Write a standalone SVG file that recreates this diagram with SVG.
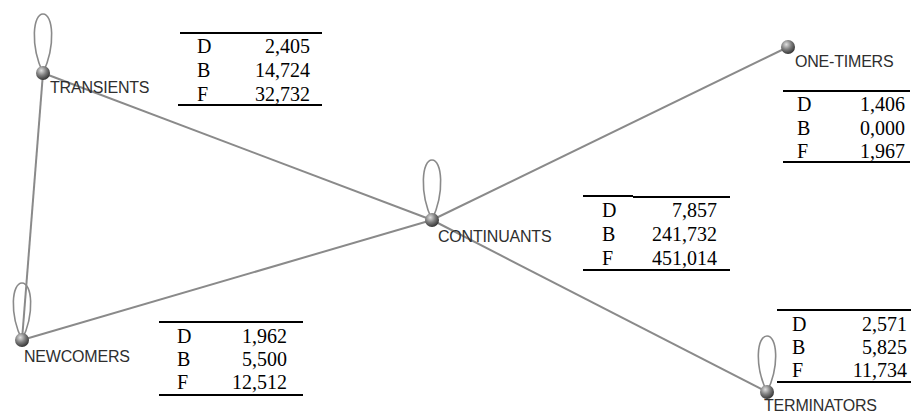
<svg xmlns="http://www.w3.org/2000/svg" width="911" height="413" viewBox="0 0 911 413">
<defs>
<radialGradient id="ball" cx="0.38" cy="0.32" r="0.7">
<stop offset="0" stop-color="#e0e0e0"/>
<stop offset="0.5" stop-color="#808080"/>
<stop offset="1" stop-color="#333"/>
</radialGradient>
<style>
.edge{stroke:#8a8a8a;stroke-width:2;fill:none}
.loop{stroke:#8a8a8a;stroke-width:1.6;fill:none}
.ball{fill:url(#ball)}
.lbl{font-family:"Liberation Sans",Arial,sans-serif;font-size:16px;fill:#2e2e2e;letter-spacing:-0.2px}
.t{font-family:"Liberation Serif","Times New Roman",serif;font-size:20px;fill:#000}
.v{font-family:"Liberation Serif","Times New Roman",serif;font-size:20px;fill:#000;text-anchor:end}
.rule{stroke:#000;stroke-width:2.2}
</style>
</defs>
<rect width="911" height="413" fill="#fff"/>
<g id="connectors">
<line class="edge" x1="43" y1="73" x2="432" y2="220"/>
<line class="edge" x1="43" y1="73" x2="22" y2="340"/>
<line class="edge" x1="22" y1="340" x2="432" y2="220"/>
<line class="edge" x1="432" y1="220" x2="788" y2="47"/>
<line class="edge" x1="432" y1="220" x2="767" y2="392"/>
<path class="loop" d="M43,73 C30,45 33,14 43,14 C53,14 56,45 43,73"/>
<path class="loop" d="M432,220 C419,192 422,160 432,160 C442,160 445,192 432,220"/>
<path class="loop" d="M22,340 C9,313 12,283 22,283 C32,283 35,313 22,340"/>
<path class="loop" d="M767,392 C754,365 757,336 767,336 C777,336 780,365 767,392"/>
</g>
<g id="transients">
<circle class="ball" cx="43" cy="73" r="7"/>
<text class="lbl" x="50" y="93">TRANSIENTS</text>
<line class="rule" x1="180" y1="33" x2="322" y2="33"/>
<text class="t" x="197" y="53">D</text><text class="v" x="310" y="53">2,405</text>
<text class="t" x="197" y="77">B</text><text class="v" x="310" y="77">14,724</text>
<text class="t" x="197" y="101">F</text><text class="v" x="310" y="101">32,732</text>
<line class="rule" x1="178" y1="105" x2="322" y2="105"/>
</g>
<g id="one-timers">
<circle class="ball" cx="788" cy="47" r="7"/>
<text class="lbl" x="795" y="67">ONE-TIMERS</text>
<line class="rule" x1="783" y1="91" x2="910" y2="91"/>
<text class="t" x="797" y="111">D</text><text class="v" x="905" y="111">1,406</text>
<text class="t" x="797" y="135">B</text><text class="v" x="905" y="135">0,000</text>
<text class="t" x="797" y="158">F</text><text class="v" x="905" y="158">1,967</text>
<line class="rule" x1="783" y1="162" x2="910" y2="162"/>
</g>
<g id="continuants">
<circle class="ball" cx="432" cy="220" r="7"/>
<text class="lbl" x="438" y="242">CONTINUANTS</text>
<line class="rule" x1="583" y1="196" x2="633" y2="196"/>
<line class="rule" x1="633" y1="197" x2="730" y2="197"/>
<text class="t" x="602" y="217">D</text><text class="v" x="717" y="217">7,857</text>
<text class="t" x="602" y="241">B</text><text class="v" x="717" y="241">241,732</text>
<text class="t" x="602" y="265">F</text><text class="v" x="717" y="265">451,014</text>
<line class="rule" x1="583" y1="270" x2="730" y2="270"/>
</g>
<g id="newcomers">
<circle class="ball" cx="22" cy="340" r="7"/>
<text class="lbl" x="24" y="362">NEWCOMERS</text>
<line class="rule" x1="159" y1="322" x2="303" y2="322"/>
<text class="t" x="177" y="343">D</text><text class="v" x="287" y="343">1,962</text>
<text class="t" x="177" y="366">B</text><text class="v" x="287" y="366">5,500</text>
<text class="t" x="177" y="389">F</text><text class="v" x="287" y="389">12,512</text>
<line class="rule" x1="159" y1="395" x2="303" y2="395"/>
</g>
<g id="terminators">
<circle class="ball" cx="767" cy="392" r="7"/>
<text class="lbl" x="764" y="411">TERMINATORS</text>
<line class="rule" x1="777" y1="310" x2="911" y2="310"/>
<text class="t" x="792" y="331">D</text><text class="v" x="907" y="331">2,571</text>
<text class="t" x="792" y="354">B</text><text class="v" x="907" y="354">5,825</text>
<text class="t" x="792" y="377">F</text><text class="v" x="907" y="377">11,734</text>
<line class="rule" x1="777" y1="382" x2="911" y2="382"/>
</g>
</svg>
